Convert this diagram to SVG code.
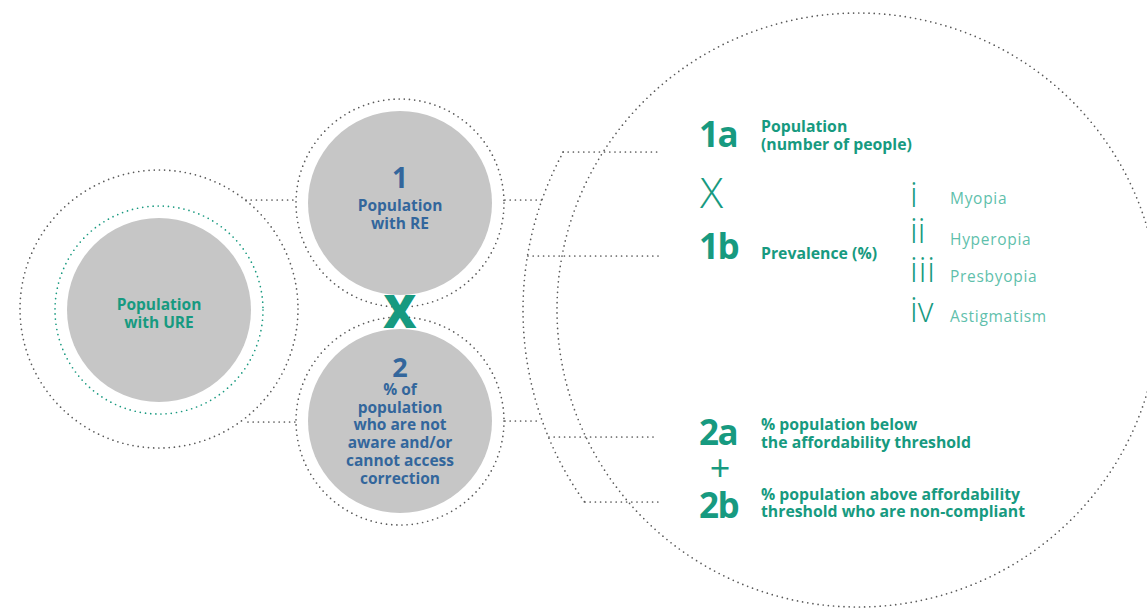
<svg xmlns="http://www.w3.org/2000/svg" width="1147" height="610" viewBox="0 0 1147 610">
<style>
.dot{fill:none;stroke:#5a5a5a;stroke-width:1.7;stroke-dasharray:0 5.2;stroke-linecap:round}
.tdot{fill:none;stroke:#1a9a80;stroke-width:1.7;stroke-dasharray:0 5.2;stroke-linecap:round}
.gray{fill:#c6c6c6}
.ct{font-family:"Open Sans","Liberation Sans",sans-serif;font-weight:700;font-size:15.5px;text-anchor:middle}
.blue{fill:#33669c}
.teal{fill:#179a80}
.lbl{font-family:"Open Sans","Liberation Sans",sans-serif;font-weight:700;font-size:15.8px;fill:#179a80}
.big{font-family:"Open Sans","Liberation Sans",sans-serif;font-weight:700;font-size:35px;fill:#179a80;letter-spacing:-1.5px}
.thin{font-family:"Open Sans","Liberation Sans",sans-serif;font-weight:300;fill:#179a80}
.lt{font-family:"Open Sans","Liberation Sans",sans-serif;font-weight:400;font-size:15.5px;fill:#5fbfac;letter-spacing:0.7px}
</style>
<rect width="1147" height="610" fill="#ffffff"/>
<g id="connectors">
<line class="dot" x1="246" y1="200" x2="295" y2="200"/>
<line class="dot" x1="248" y1="422" x2="295" y2="422"/>
<line class="dot" x1="505" y1="200" x2="542" y2="200"/>
<line class="dot" x1="505" y1="421" x2="541" y2="421"/>
<path class="dot" d="M563.3,152 A330,330 0 0 0 584.6,502"/>
<line class="dot" x1="563" y1="152" x2="657" y2="152"/>
<line class="dot" x1="528" y1="256" x2="663" y2="256"/>
<line class="dot" x1="549" y1="437" x2="658" y2="437"/>
<line class="dot" x1="585" y1="502" x2="658" y2="502"/>
</g>
<g id="node-ure">
<circle class="dot" cx="159" cy="309" r="139"/>
<circle class="tdot" cx="159" cy="310" r="104"/>
<circle class="gray" cx="159" cy="310" r="92"/>
<text class="ct teal" x="159" y="310">Population</text>
<text class="ct teal" x="159" y="328">with URE</text>
</g>
<g id="node-1">
<circle class="dot" cx="400" cy="203" r="104"/>
<circle class="gray" cx="400" cy="203" r="92"/>
<text class="ct blue" x="400" y="188" style="font-size:28px">1</text>
<text class="ct blue" x="400" y="211">Population</text>
<text class="ct blue" x="400" y="229">with RE</text>
</g>
<g id="node-2">
<circle class="dot" cx="400" cy="421" r="104"/>
<circle class="gray" cx="400" cy="421" r="92"/>
<text class="ct blue" x="400" y="377" style="font-size:27px">2</text>
<text class="ct blue" x="400" y="395">% of</text>
<text class="ct blue" x="400" y="412.5">population</text>
<text class="ct blue" x="400" y="430">who are not</text>
<text class="ct blue" x="400" y="448">aware and/or</text>
<text class="ct blue" x="400" y="466">cannot access</text>
<text class="ct blue" x="400" y="484">correction</text>
</g>
<g id="times-symbol">
<text x="400" y="328" style="font-family:'Open Sans','Liberation Sans',sans-serif;font-weight:800;font-size:46px;text-anchor:middle;fill:#179a80">X</text>
</g>
<g id="node-breakdown">
<ellipse class="dot" cx="858" cy="310" rx="301" ry="297"/>
<text class="big" x="699" y="147">1a</text>
<text class="lbl" x="761" y="132">Population</text>
<text class="lbl" x="761" y="150">(number of people)</text>
<text class="thin" x="700" y="208" style="font-size:43px">X</text>
<text class="big" x="699" y="259">1b</text>
<text class="lbl" x="761" y="259">Prevalence (%)</text>
<text class="thin" x="910" y="207" style="font-size:34px">i</text>
<text class="thin" x="910" y="243" style="font-size:34px">ii</text>
<text class="thin" x="910" y="282" style="font-size:34px;letter-spacing:1px">iii</text>
<text class="thin" x="910" y="322" style="font-size:34px">iv</text>
<text class="lt" x="950" y="204">Myopia</text>
<text class="lt" x="950" y="245">Hyperopia</text>
<text class="lt" x="950" y="282">Presbyopia</text>
<text class="lt" x="950" y="322">Astigmatism</text>
<text class="big" x="699" y="445">2a</text>
<text x="720" y="481" style="font-family:'Open Sans','Liberation Sans',sans-serif;font-weight:500;font-size:36px;text-anchor:middle;fill:#179a80">+</text>
<text class="big" x="699" y="518">2b</text>
<text class="lbl" x="761" y="430">% population below</text>
<text class="lbl" x="761" y="448">the affordability threshold</text>
<text class="lbl" x="761" y="500">% population above affordability</text>
<text class="lbl" x="761" y="517">threshold who are non-compliant</text>
</g>
</svg>
